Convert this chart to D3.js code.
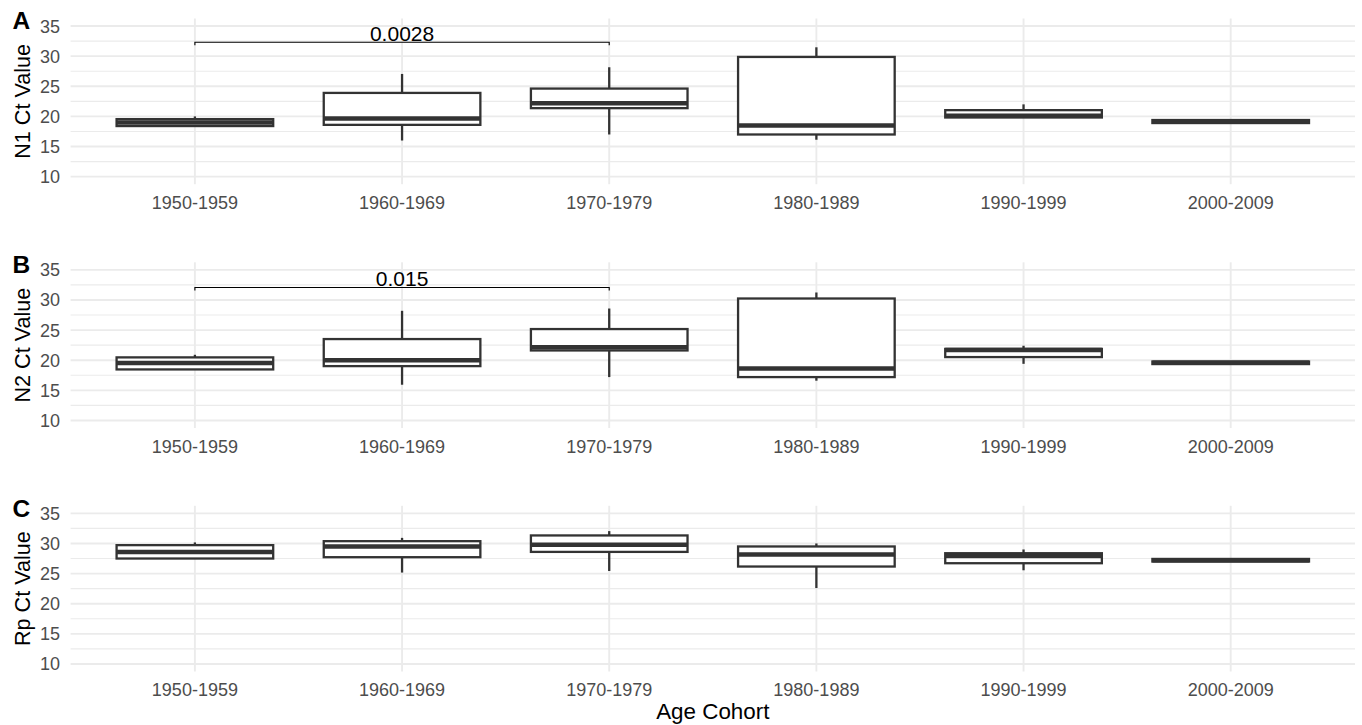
<!DOCTYPE html>
<html>
<head>
<meta charset="utf-8">
<script src="https://cdn.jsdelivr.net/npm/d3@7"></script>
<style>
  html, body { margin: 0; padding: 0; background: #fff; }
  svg { display: block; font-family: "Liberation Sans", Arial, Helvetica, sans-serif; }
</style>
</head>
<body>
<div id="chart"></div>
<script>
// Age cohorts on the x axis
const cohorts = ["1950-1959", "1960-1969", "1970-1979", "1980-1989", "1990-1999", "2000-2009"];

// Box stats per cohort: [min, q1, median, q3, max]
const n1Stats = [
  [18.4, 18.4, 19.0, 19.55, 20.0],
  [16.0, 18.6, 19.65, 23.9, 27.05],
  [17.0, 21.37, 22.2, 24.62, 28.16],
  [16.13, 17.0, 18.5, 29.87, 31.47],
  [19.82, 19.82, 20.1, 21.04, 22.0],
  [18.9, 18.9, 19.14, 19.4, 19.4]
];
const n2Stats = [
  [18.47, 18.47, 19.53, 20.47, 20.9],
  [15.93, 19.02, 20.0, 23.51, 28.2],
  [17.2, 21.62, 22.15, 25.17, 28.58],
  [16.6, 17.2, 18.63, 30.24, 31.24],
  [19.4, 20.52, 21.68, 21.88, 22.4],
  [19.36, 19.36, 19.58, 19.78, 19.78]
];
const rpStats = [
  [27.5, 27.5, 28.6, 29.72, 30.17],
  [25.17, 27.72, 29.5, 30.38, 30.93],
  [25.43, 28.6, 29.8, 31.33, 32.05],
  [22.6, 26.17, 28.17, 29.5, 30.0],
  [25.55, 26.72, 27.93, 28.38, 29.0],
  [27.0, 27.0, 27.22, 27.43, 27.43]
];

const yTicks = [10, 15, 20, 25, 30, 35];
const yMinor = [12.5, 17.5, 22.5, 27.5, 32.5];

// significance brackets: [from cohort idx, to cohort idx, y value, label]
const n1Brackets = [[0, 2, 32.3, "0.0028"]];
const n2Brackets = [[0, 2, 32.07, "0.015"]];

const panels = [
  { letter: "A", title: "N1 Ct Value", stats: n1Stats, brackets: n1Brackets, top: 18.5 },
  { letter: "B", title: "N2 Ct Value", stats: n2Stats, brackets: n2Brackets, top: 262.3 },
  { letter: "C", title: "Rp Ct Value", stats: rpStats, brackets: [], top: 505.8 }
];

const width = 1362;
const height = 725;
const plotLeft = 70.6;
const plotRight = 1355;
const panelH = 165.7;
const boxColor = "#333333";
const gridColor = "#ebebeb";

const svg = d3.select("#chart").append("svg")
  .attr("width", width)
  .attr("height", height);

const x = d3.scalePoint().domain(cohorts).range([plotLeft, plotRight]).padding(0.6);
const boxW = x.step() * 0.756;

panels.forEach((p) => {
  const y = d3.scaleLinear().domain([8.75, 36.25]).range([p.top + panelH, p.top]);
  const g = svg.append("g");

  // grid
  g.selectAll(".minor").data(yMinor).join("line")
    .attr("x1", plotLeft).attr("x2", plotRight)
    .attr("y1", (d) => y(d)).attr("y2", (d) => y(d))
    .attr("stroke", gridColor).attr("stroke-width", 1.1);
  g.selectAll(".major").data(yTicks).join("line")
    .attr("x1", plotLeft).attr("x2", plotRight)
    .attr("y1", (d) => y(d)).attr("y2", (d) => y(d))
    .attr("stroke", gridColor).attr("stroke-width", 1.9);
  g.selectAll(".vgrid").data(cohorts).join("line")
    .attr("x1", (d) => x(d)).attr("x2", (d) => x(d))
    .attr("y1", p.top).attr("y2", p.top + panelH)
    .attr("stroke", gridColor).attr("stroke-width", 1.9);

  // y tick labels
  g.selectAll(".ytick").data(yTicks).join("text")
    .attr("x", 60)
    .attr("y", (d) => y(d))
    .attr("dy", "0.36em")
    .attr("text-anchor", "end")
    .style("font-size", "18px")
    .style("fill", "#4d4d4d")
    .text((d) => d);

  // x tick labels
  g.selectAll(".xtick").data(cohorts).join("text")
    .attr("x", (d) => x(d))
    .attr("y", p.top + panelH + 24.8)
    .attr("text-anchor", "middle")
    .style("font-size", "18px")
    .style("fill", "#4d4d4d")
    .text((d) => d);

  // y title
  g.append("text")
    .attr("transform", `translate(30, ${p.top + panelH / 2}) rotate(-90)`)
    .attr("text-anchor", "middle")
    .style("font-size", "21.6px")
    .style("fill", "#000")
    .text(p.title);

  // panel letter
  g.append("text")
    .attr("x", 12.5)
    .attr("y", p.top + 10.8)
    .style("font-size", "24.5px")
    .style("font-weight", "bold")
    .style("fill", "#000")
    .text(p.letter);

  // boxes
  const boxes = g.selectAll(".box").data(p.stats).join("g");
  boxes.append("line")
    .attr("x1", (d, i) => x(cohorts[i])).attr("x2", (d, i) => x(cohorts[i]))
    .attr("y1", (d) => y(d[4])).attr("y2", (d) => y(d[3]))
    .attr("stroke", boxColor).attr("stroke-width", 2.3);
  boxes.append("line")
    .attr("x1", (d, i) => x(cohorts[i])).attr("x2", (d, i) => x(cohorts[i]))
    .attr("y1", (d) => y(d[1])).attr("y2", (d) => y(d[0]))
    .attr("stroke", boxColor).attr("stroke-width", 2.3);
  boxes.append("rect")
    .attr("x", (d, i) => x(cohorts[i]) - boxW / 2)
    .attr("width", boxW)
    .attr("y", (d) => y(d[3]))
    .attr("height", (d) => y(d[1]) - y(d[3]))
    .attr("fill", "#fff")
    .attr("stroke", boxColor).attr("stroke-width", 2.3);
  boxes.append("line")
    .attr("x1", (d, i) => x(cohorts[i]) - boxW / 2).attr("x2", (d, i) => x(cohorts[i]) + boxW / 2)
    .attr("y1", (d) => y(d[2])).attr("y2", (d) => y(d[2]))
    .attr("stroke", boxColor).attr("stroke-width", 4.5);

  // significance brackets
  p.brackets.forEach(([a, b, v, label]) => {
    const x1 = x(cohorts[a]);
    const x2 = x(cohorts[b]);
    g.append("path")
      .attr("d", `M${x1},${y(v - 0.5)}V${y(v)}H${x2}V${y(v - 0.5)}`)
      .attr("fill", "none")
      .attr("stroke", "#000")
      .attr("stroke-width", 1.1);
    g.append("text")
      .attr("x", (x1 + x2) / 2)
      .attr("y", y(v) - 1.8)
      .attr("text-anchor", "middle")
      .style("font-size", "21px")
      .style("fill", "#000")
      .text(label);
  });
});

// x title
svg.append("text")
  .attr("x", (plotLeft + plotRight) / 2)
  .attr("y", 719)
  .attr("text-anchor", "middle")
  .style("font-size", "22.4px")
  .style("fill", "#000")
  .text("Age Cohort");
</script>
</body>
</html>
